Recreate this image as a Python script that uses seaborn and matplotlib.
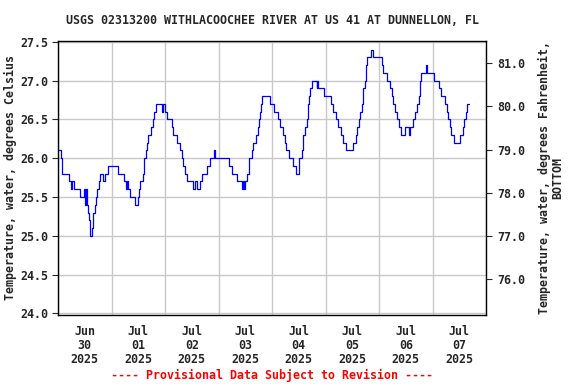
import matplotlib
matplotlib.use("Agg")
import matplotlib.pyplot as plt
import matplotlib.ticker as mticker
import numpy as np
import pandas as pd
import seaborn as sns

title = "USGS 02313200 WITHLACOOCHEE RIVER AT US 41 AT DUNNELLON, FL"
ylabel_left = "Temperature, water, degrees Celsius"
ylabel_right = "Temperature, water, degrees Fahrenheit,\nBOTTOM"
footer = "---- Provisional Data Subject to Revision ----"
start_time = "2025-06-30 00:00"
end_time = "2025-07-08 00:00"
day_labels = ["Jun\n30\n2025", "Jul\n01\n2025", "Jul\n02\n2025", "Jul\n03\n2025",
              "Jul\n04\n2025", "Jul\n05\n2025", "Jul\n06\n2025", "Jul\n07\n2025"]
left_ticks = [24.0, 24.5, 25.0, 25.5, 26.0, 26.5, 27.0, 27.5]
right_ticks = [76.0, 77.0, 78.0, 79.0, 80.0, 81.0]

# hours after 2025-06-30 00:00 at which the reading changes, and the reading (deg C)
hours = [0.25, 1.25, 2.0, 4.75, 5.75, 6.25, 7.25, 9.75, 11.75, 12.25,
         12.75, 13.0, 13.5, 14.0, 14.5, 15.25, 15.75, 16.75, 17.0, 17.5,
         18.25, 19.0, 20.25, 21.0, 22.5, 26.75, 29.5, 30.5, 30.75, 31.25,
         32.25, 34.75, 35.75, 36.5, 37.0, 38.25, 38.75, 39.5, 40.0, 40.5,
         41.5, 42.75, 43.25, 44.0, 46.75, 47.0, 48.0, 48.75, 51.0, 51.75,
         53.25, 54.75, 55.5, 56.25, 57.0, 57.75, 60.75, 61.5, 62.25, 63.5,
         64.5, 66.75, 68.25, 70.0, 70.5, 76.75, 78.0, 80.25, 82.5, 83.0,
         83.5, 84.0, 85.0, 85.75, 87.0, 87.5, 88.75, 89.5, 90.0, 90.5,
         91.0, 91.5, 95.0, 97.0, 98.5, 99.5, 101.0, 101.75, 102.5, 103.75,
         105.25, 106.75, 108.0, 109.25, 110.0, 110.75, 111.5, 112.25, 112.75, 113.0,
         113.75, 116.0, 116.25, 116.75, 119.25, 122.25, 123.5, 124.75, 125.75, 126.75,
         128.0, 129.25, 132.25, 133.75, 134.25, 135.0, 135.5, 136.25, 137.0, 137.75,
         138.25, 138.75, 140.25, 141.5, 145.25, 146.0, 147.5, 149.0, 149.75, 150.5,
         151.25, 152.25, 153.0, 153.75, 155.75, 157.5, 157.75, 159.25, 160.25, 161.0,
         161.75, 162.25, 162.5, 163.0, 165.0, 165.75, 168.75, 171.0, 172.0, 173.5,
         174.5, 175.0, 175.75, 176.5, 177.75, 180.5, 181.5, 182.0, 183.0, 183.5,
         184.25]
temps = [26.1, 26.0, 25.8, 25.7, 25.6, 25.7, 25.6, 25.5, 25.6, 25.4,
         25.6, 25.4, 25.3, 25.2, 25.0, 25.1, 25.3, 25.4, 25.5, 25.6,
         25.7, 25.8, 25.7, 25.8, 25.9, 25.8, 25.7, 25.6, 25.7, 25.6,
         25.5, 25.4, 25.5, 25.6, 25.7, 25.8, 26.0, 26.1, 26.2, 26.3,
         26.4, 26.5, 26.6, 26.7, 26.6, 26.7, 26.6, 26.5, 26.4, 26.3,
         26.2, 26.1, 26.0, 25.9, 25.8, 25.7, 25.6, 25.7, 25.6, 25.7,
         25.8, 25.9, 26.0, 26.1, 26.0, 25.9, 25.8, 25.7, 25.6, 25.7,
         25.6, 25.7, 25.8, 26.0, 26.1, 26.2, 26.3, 26.4, 26.5, 26.6,
         26.7, 26.8, 26.7, 26.6, 26.5, 26.4, 26.3, 26.2, 26.1, 26.0,
         25.9, 25.8, 26.0, 26.1, 26.3, 26.4, 26.5, 26.7, 26.8, 26.9,
         27.0, 26.9, 27.0, 26.9, 26.8, 26.7, 26.6, 26.5, 26.4, 26.3,
         26.2, 26.1, 26.2, 26.3, 26.4, 26.5, 26.6, 26.7, 26.9, 27.0,
         27.2, 27.3, 27.4, 27.3, 27.2, 27.1, 27.0, 26.9, 26.8, 26.7,
         26.6, 26.5, 26.4, 26.3, 26.4, 26.3, 26.4, 26.5, 26.6, 26.7,
         26.8, 26.9, 27.0, 27.1, 27.2, 27.1, 27.0, 26.9, 26.8, 26.7,
         26.6, 26.5, 26.4, 26.3, 26.2, 26.3, 26.4, 26.5, 26.6, 26.7,
         26.7]

sns.set_style("white")
plt.rcParams["font.family"] = ["DejaVu Sans Mono"]
plt.rcParams["font.weight"] = "bold"
FS = 8.4

t0 = pd.Timestamp(start_time)
df = pd.DataFrame({"time": t0 + pd.to_timedelta(hours, unit="h"), "temp": temps})

fig = plt.figure(figsize=(5.76, 3.84), dpi=100)
ax = fig.add_axes([58 / 576, 1 - 315 / 384, 428 / 576, 274 / 384])

sns.lineplot(data=df, x="time", y="temp", ax=ax, color="#0000ff", linewidth=0.9,
             drawstyle="steps-post", estimator=None, sort=False, zorder=3)

ylo, yhi = 23.98, 27.51
ax.set_ylim(ylo, yhi)
ax.set_xlim(pd.Timestamp(start_time), pd.Timestamp(end_time))

midnights = pd.date_range(start_time, end_time, freq="D")
noons = pd.date_range("2025-06-30 12:00", periods=8, freq="D")
ax.set_xticks(midnights)
ax.set_xticklabels([""] * len(midnights))
ax.set_xticks(noons, minor=True)
ax.set_xticklabels(day_labels, minor=True, fontsize=FS, fontweight="bold",
                   linespacing=1.1)
ax.tick_params(axis="x", which="both", length=0, pad=7)

ax.set_yticks(left_ticks)
ax.yaxis.set_major_formatter(mticker.FormatStrFormatter("%.1f"))
ax.tick_params(axis="y", which="major", length=4, width=0.8, direction="out",
               pad=3, labelsize=FS, left=True)
for lab in ax.get_yticklabels():
    lab.set_fontweight("bold")

ax.grid(True, which="major", axis="both", color="#c8c8c8", linewidth=1.0, zorder=0)
ax.set_axisbelow(True)
for s in ax.spines.values():
    s.set_color("black")
    s.set_linewidth(1.0)

ax.set_xlabel("")
ax.set_ylabel(ylabel_left, fontsize=FS, fontweight="bold", labelpad=2)

ax2 = ax.twinx()
ax2.set_ylim(ylo * 1.8 + 32, yhi * 1.8 + 32)
ax2.set_yticks(right_ticks)
ax2.yaxis.set_major_formatter(mticker.FormatStrFormatter("%.1f"))
ax2.tick_params(axis="y", length=4, width=0.8, direction="out", pad=4, labelsize=FS)
for lab in ax2.get_yticklabels():
    lab.set_fontweight("bold")
ax2.grid(False)
for s in ax2.spines.values():
    s.set_visible(False)
ax2.set_ylabel(ylabel_right, fontsize=FS, fontweight="bold", labelpad=9,
               linespacing=1.1, ha="center")

fig.text(272 / 576, 1 - 20 / 384, title, ha="center", va="center",
         fontsize=FS, fontweight="bold")
fig.text(272 / 576, 1 - 375 / 384, footer, ha="center", va="center",
         fontsize=FS, fontweight="bold", color="#ff0000")

fig.savefig("out.png", dpi=100)
